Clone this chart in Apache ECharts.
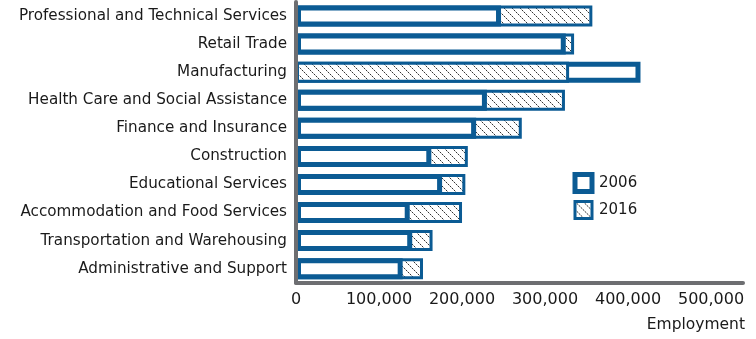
<!DOCTYPE html>
<html>
<head>
<meta charset="utf-8">
<script src="https://cdn.jsdelivr.net/npm/echarts@6/dist/echarts.min.js"></script>
<style>
  html, body { margin: 0; padding: 0; background: #fff; }
  #chart { width: 756px; height: 339px; }
</style>
</head>
<body>
<div id="chart"></div>
<script>
// Employment by industry, 2006 vs 2016
const industries = [
  'Professional and Technical Services',
  'Retail Trade',
  'Manufacturing',
  'Health Care and Social Assistance',
  'Finance and Insurance',
  'Construction',
  'Educational Services',
  'Accommodation and Food Services',
  'Transportation and Warehousing',
  'Administrative and Support'
];
const employment2006 = [247000, 325000, 415000, 230000, 217000, 163000, 176000, 137000, 140000, 128500];
const employment2016 = [357000, 335000, 329000, 324000, 272000, 207000, 204000, 200000, 164500, 153000];
const xTicks = [0, 100000, 200000, 300000, 400000, 500000];

const BLUE = '#0b5b94';
const GREY = '#6d6e71';
const FONT = 'DejaVu Sans';

// dotted diagonal hatch used for the 2016 bars
function makeHatch() {
  const c = document.createElement('canvas');
  c.width = 8; c.height = 8;
  const g = c.getContext('2d');
  g.fillStyle = '#ffffff';
  g.fillRect(0, 0, 8, 8);
  for (let i = 0; i < 8; i++) {
    g.fillStyle = (i % 2 === 0) ? '#333333' : '#b0b0b0';
    g.fillRect(i, i, 1, 1);
  }
  return c;
}
const hatch = { image: makeHatch(), repeat: 'repeat' };

const style2006 = { color: '#ffffff', borderColor: BLUE, borderWidth: 5 };
const style2016 = { color: hatch, borderColor: BLUE, borderWidth: 3 };

// the longer bar of each pair sits behind, the shorter one in front
const back2006 = employment2006.map((v, i) => v >= employment2016[i] ? v : '-');
const back2016 = employment2016.map((v, i) => v > employment2006[i] ? v : '-');
const front2006 = employment2006.map((v, i) => v < employment2016[i] ? v : '-');
const front2016 = employment2016.map((v, i) => v <= employment2006[i] ? v : '-');

function barSeries(name, data, style) {
  return {
    name: name,
    type: 'bar',
    data: data,
    barWidth: 21,
    barGap: '-100%',
    itemStyle: style,
    emphasis: { disabled: true },
    animation: false
  };
}

const chart = echarts.init(document.getElementById('chart'), null, { renderer: 'canvas' });
chart.setOption({
  animation: false,
  grid: { left: 296, right: 13, top: 2, bottom: 56.3, containLabel: false },
  legend: {
    orient: 'vertical',
    left: 572.5,
    top: 172,
    itemWidth: 17,
    itemHeight: 17,
    itemGap: 6,
    padding: 0,
    selectedMode: false,
    textStyle: { fontFamily: FONT, fontSize: 15, color: '#1a1a1a', padding: [0, 0, 0, 2] },
    data: [
      { name: '2006', icon: 'rect', itemStyle: { color: '#ffffff', borderColor: BLUE, borderWidth: 5 } },
      { name: '2016', icon: 'rect', itemStyle: { color: hatch, borderColor: BLUE, borderWidth: 3 } }
    ]
  },
  xAxis: {
    type: 'value',
    min: 0,
    max: 538500,
    interval: 100000,
    name: 'Employment',
    nameLocation: 'end',
    nameGap: 2,
    nameTextStyle: {
      fontFamily: FONT, fontSize: 15.5, color: '#1a1a1a',
      align: 'right', verticalAlign: 'top', padding: [34, 0, 0, 0]
    },
    axisLine: { show: true, lineStyle: { color: GREY, width: 4 } },
    axisTick: { show: false },
    splitLine: { show: false },
    axisLabel: {
      showMaxLabel: false,
      margin: 9,
      fontFamily: FONT, fontSize: 16, color: '#1a1a1a',
      formatter: v => xTicks.indexOf(v) >= 0 ? v.toLocaleString('en-US') : ''
    }
  },
  yAxis: {
    type: 'category',
    data: industries,
    inverse: true,
    offset: 2,
    z: 5,
    axisLine: { show: true, lineStyle: { color: GREY, width: 4 } },
    axisTick: { show: false },
    axisLabel: { margin: 7, fontFamily: FONT, fontSize: 15.2, color: '#1a1a1a' }
  },
  series: [
    barSeries('2006', back2006, style2006),
    barSeries('2016', back2016, style2016),
    barSeries('2006', front2006, style2006),
    barSeries('2016', front2016, style2016)
  ]
});
</script>
</body>
</html>
